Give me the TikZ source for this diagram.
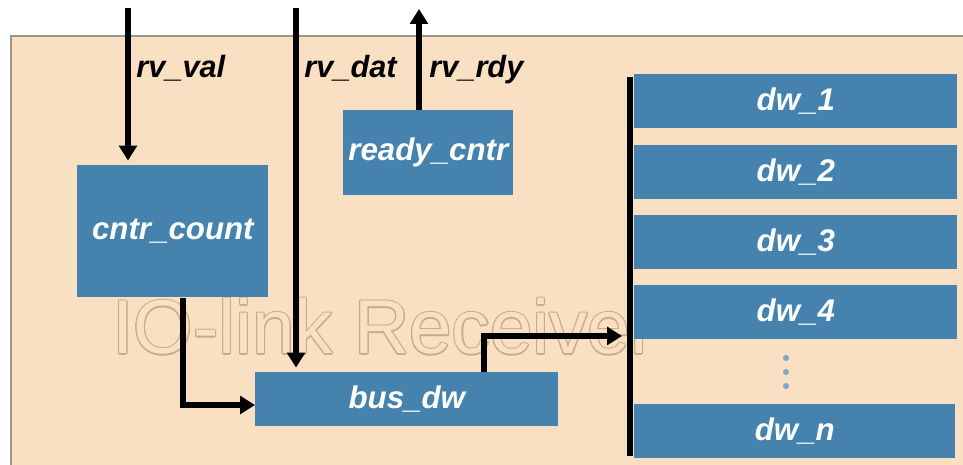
\documentclass[tikz,border=0pt]{standalone}
\usepackage{fontspec}
\setmainfont{Liberation Sans}
\usepackage{contour}
\usetikzlibrary{arrows.meta, calc}
\definecolor{panelbg}{HTML}{FAE0C2}
\definecolor{panelrim}{HTML}{9C958C}
\definecolor{blkblue}{HTML}{4682AE}
\definecolor{wmtan}{HTML}{C8AC88}
\contourlength{0.6pt}

\begin{document}
\begin{tikzpicture}[
    x=0.02cm, y=-0.02cm,
    >={Triangle[length=8.5pt, width=10pt]},
    blk/.style={fill=blkblue, text=white, inner sep=0pt, anchor=north west,
                font=\bfseries\itshape\fontsize{17.8}{20}\selectfont},
    lbl/.style={text=black, inner sep=0pt, anchor=base west,
                font=\bfseries\itshape\fontsize{17.5}{20}\selectfont},
    sig/.style={line width=2.9pt, black},
  ]
  \useasboundingbox (0,0) rectangle (963,465);

  % ══════════════════════════════════════════════════════
  % Panel
  % ══════════════════════════════════════════════════════
  \fill[panelbg] (11,36) rectangle (963,465);
  \draw[panelrim, line width=0.9pt] (11,465) -- (11,36) -- (963,36);

  % ══════════════════════════════════════════════════════
  % Watermark (outlined title)
  % ══════════════════════════════════════════════════════
  \node[anchor=base west, inner sep=0pt] (wmark) at (112,354)
    {\fontsize{43.5}{50}\selectfont\contour{wmtan}{\textcolor{panelbg}{IO-link Receiver}}};

  % ══════════════════════════════════════════════════════
  % Blocks
  % ══════════════════════════════════════════════════════
  \node[blk, minimum width=3.82cm, minimum height=2.64cm] (cntr) at (77,165) {cntr\_count};
  \node[blk, minimum width=3.40cm, minimum height=1.70cm] (ready) at (343,110) {ready\_cntr};
  \node[blk, minimum width=6.06cm, minimum height=1.08cm] (bus) at (255,372) {bus\_dw};

  % register file dw_1 .. dw_n
  \foreach \k/\y in {1/74, 2/145, 3/215, 4/285}{
    \node[blk, minimum width=6.46cm, minimum height=1.08cm] (dw\k) at (634,\y) {dw\_\k};
  }
  \node[blk, minimum width=6.42cm, minimum height=1.08cm] (dwn) at (634,404) {dw\_n};
  \foreach \y in {358, 372, 386}{
    \fill[blkblue!70!white] (786,\y) circle (3);
  }

  % ══════════════════════════════════════════════════════
  % Register bus
  % ══════════════════════════════════════════════════════
  \coordinate (bustop) at (630,77);
  \coordinate (busbot) at (630,456);
  \draw[line width=3.3pt, black] (bustop) -- (busbot);

  % ══════════════════════════════════════════════════════
  % Signals
  % ══════════════════════════════════════════════════════
  \coordinate (valsrc) at (128,8);
  \coordinate (datsrc) at (296,8);
  \coordinate (rdydst) at (419,9);
  \coordinate (cntbend) at (183,405);
  \coordinate (busbend) at (484,336);

  \draw[sig, ->, shorten >=2.5pt] (valsrc) -- (valsrc |- cntr.north);
  \draw[sig, ->, shorten >=2.5pt] (datsrc) -- (datsrc |- bus.north);
  \draw[sig, ->] (rdydst |- ready.north) -- (rdydst);
  \draw[sig, ->] (cntbend |- cntr.south) -- (cntbend) -- (cntbend -| bus.west);
  \draw[sig, ->, shorten >=4.5pt] (busbend |- bus.north) -- (busbend) -- (busbend -| bustop);

  \node[lbl] (valtxt) at (136,78) {rv\_val};
  \node[lbl] (dattxt) at (304,78) {rv\_dat};
  \node[lbl] (rdytxt) at (429,78) {rv\_rdy};

\end{tikzpicture}
\end{document}
